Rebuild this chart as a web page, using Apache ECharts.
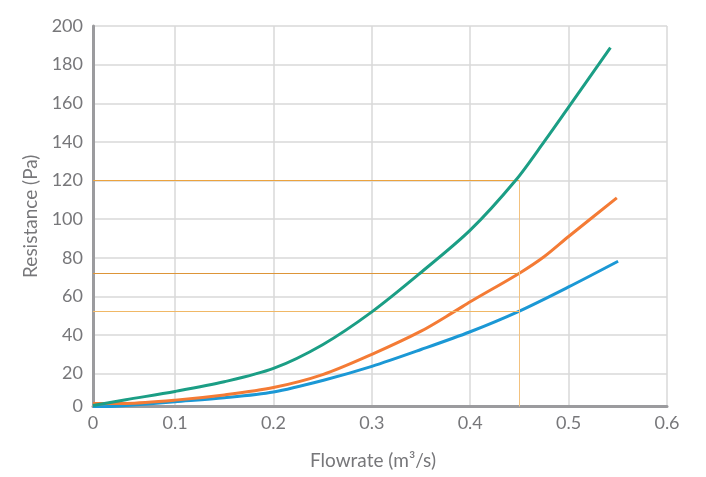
<!DOCTYPE html>
<html>
<head>
<meta charset="utf-8">
<script src="https://cdn.jsdelivr.net/npm/echarts@6/dist/echarts.min.js"></script>
<style>
  html, body { margin: 0; padding: 0; background: #fff; }
  #chart { width: 706px; height: 477px; }
</style>
</head>
<body>
<div id="chart"></div>
<script>
// axis starts (drawn axes sit a little past 0 in the original, labelled "0")
const flowMin = 0.0166;
const flowMax = 0.6;
const resMin = 3;
const resMax = 200;

// curves: flowrate (m3/s) / resistance (Pa)
const greenFlow = [0.0166, 0.05, 0.1, 0.15, 0.2, 0.25, 0.3, 0.349, 0.4, 0.446, 0.475, 0.5, 0.5425];
const greenRes  = [3.5, 6.5, 10.8, 15.8, 22.7, 35, 52, 72, 94.3, 120, 140, 158, 188.8];

const orangeFlow = [0.0166, 0.05, 0.1, 0.15, 0.2, 0.25, 0.3, 0.35, 0.385, 0.4, 0.45, 0.475, 0.5, 0.549];
const orangeRes  = [4.5, 4.6, 6.3, 9, 12.8, 19.5, 30, 42, 52.5, 57.2, 72, 80.5, 91, 111];

const blueFlow = [0.0166, 0.05, 0.1, 0.15, 0.2, 0.25, 0.3, 0.35, 0.4, 0.45, 0.5, 0.5503];
const blueRes  = [2.5, 3.5, 5.5, 7.5, 10.5, 16.5, 23.8, 32.5, 41.7, 52.4, 64.9, 78.2];

// reading guides
const guideFlow = 0.45;
const guideRes = [120, 72, 52.4];
const guideColors = ['#eba33f', '#dd9538', '#f0b866'];
const guideVColor = '#f3c27f';

function pairs(xs, ys) {
    return xs.map(function (x, i) { return [x, ys[i]]; });
}

// one empty series per guide so each keeps its own colour
function guideSeries(from, to, color) {
    return {
        type: 'line',
        data: [],
        silent: true,
        z: 1,
        markLine: {
            silent: true,
            symbol: 'none',
            label: { show: false },
            lineStyle: { color: color, width: 1, type: 'solid', opacity: 1 },
            emphasis: { disabled: true },
            data: [[{ coord: from }, { coord: to }]]
        }
    };
}

const chart = echarts.init(document.getElementById('chart'));

const labelFont = 'Lato, "Open Sans", sans-serif';
const textColor = '#77777a';

let guides = guideRes.map(function (r, i) {
    return guideSeries([flowMin, r], [guideFlow, r], guideColors[i]);
});
guides.push(guideSeries([guideFlow, resMin], [guideFlow, guideRes[0]], guideVColor));

chart.setOption({
    animation: false,
    grid: { left: 93, right: 39, top: 26, bottom: 70.5 },
    xAxis: {
        type: 'value',
        min: flowMin,
        max: flowMax,
        splitNumber: 6,
        name: 'Flowrate (m³/s)',
        nameLocation: 'middle',
        nameGap: 45,
        nameTextStyle: { color: textColor, fontSize: 19, fontFamily: labelFont, padding: [0, 14, 0, 0] },
        axisLine: { lineStyle: { color: '#9b9b9e', width: 3 } },
        axisTick: { show: false },
        axisLabel: {
            color: textColor, fontSize: 18, fontFamily: labelFont, margin: 8,
            formatter: function (v) { return v < 0.05 ? '0' : String(+v.toFixed(1)); }
        },
        splitLine: { show: true, lineStyle: { color: '#d9d9d9', width: 1.5 } }
    },
    yAxis: {
        type: 'value',
        min: resMin,
        max: resMax,
        splitNumber: 10,
        name: 'Resistance (Pa)',
        nameLocation: 'middle',
        nameGap: 50,
        nameTextStyle: { color: textColor, fontSize: 19, fontFamily: labelFont },
        axisLine: { show: true, lineStyle: { color: '#9b9b9e', width: 3 } },
        axisTick: { show: false },
        axisLabel: {
            color: textColor, fontSize: 18, fontFamily: labelFont, margin: 10,
            formatter: function (v) { return v < 10 ? '0' : String(Math.round(v)); }
        },
        splitLine: { show: true, lineStyle: { color: '#d9d9d9', width: 1.5 } }
    },
    series: guides.concat([
        {
            name: 'blue',
            type: 'line',
            data: pairs(blueFlow, blueRes),
            smooth: 0.3,
            showSymbol: false,
            lineStyle: { color: '#1b98d5', width: 3 },
            itemStyle: { color: '#1b98d5' },
            z: 3
        },
        {
            name: 'orange',
            type: 'line',
            data: pairs(orangeFlow, orangeRes),
            smooth: 0.3,
            showSymbol: false,
            lineStyle: { color: '#f47b35', width: 3 },
            itemStyle: { color: '#f47b35' },
            z: 4
        },
        {
            name: 'green',
            type: 'line',
            data: pairs(greenFlow, greenRes),
            smooth: 0.3,
            showSymbol: false,
            lineStyle: { color: '#1b9e85', width: 3 },
            itemStyle: { color: '#1b9e85' },
            z: 5
        }
    ])
});
</script>
</body>
</html>
